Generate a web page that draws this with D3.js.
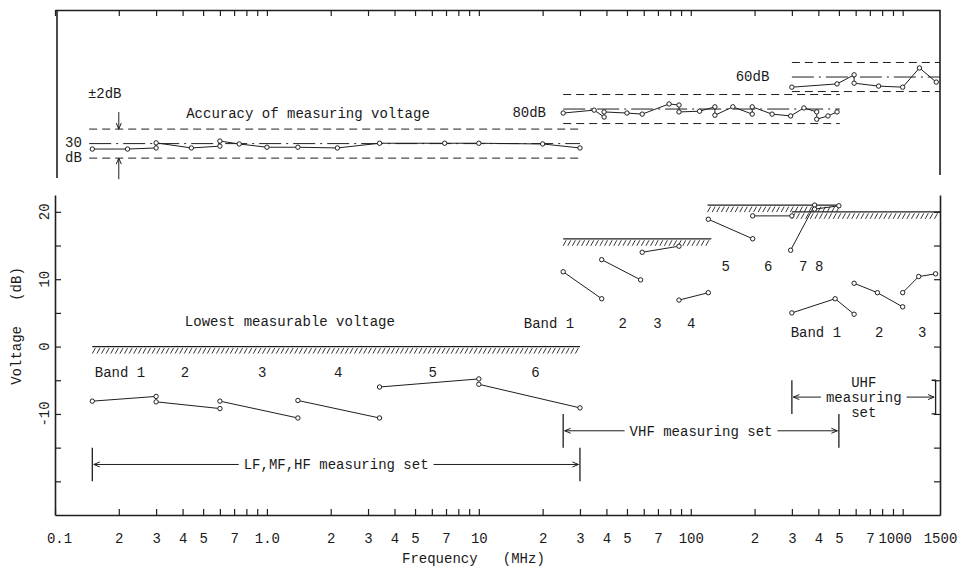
<!DOCTYPE html>
<meta charset="utf-8">
<style>
  body { margin: 0; background: #fff; }
  text { font-family: "Liberation Mono", "DejaVu Sans Mono", monospace; font-size: 14px; fill: #1a1a1a; }
</style>
<svg width="957" height="568"></svg>
<script src="https://d3js.org/d3.v7.min.js"></script>
<script>

// frequency in MHz, voltage in dB

// lowest measurable voltage, one polyline per band
var lfBands = [
  [[0.15, -8.1], [0.3, -7.4]],
  [[0.3, -8.2], [0.6, -9.2]],
  [[0.6, -8.1], [1.4, -10.6]],
  [[1.4, -8.0], [3.4, -10.6]],
  [[3.4, -6.0], [10, -4.8]],
  [[10, -5.6], [30, -9.1]]
];
var vhfBands = [
  [[25, 11.1], [38, 7.1]],
  [[38, 12.9], [58, 9.9]],
  [[59, 14.0], [88, 14.9]],
  [[88, 6.9], [121, 8.0]],
  [[121, 18.9], [196, 16.0]],
  [[196, 19.4], [300, 19.4]],
  [[296, 14.3], [384, 21.0]],
  [[384, 20.4], [500, 20.9]]
];
var uhfBands = [
  [[300, 5.0], [480, 7.1], [590, 4.8]],
  [[590, 9.4], [760, 8.0], [1000, 5.9]],
  [[1000, 8.0], [1190, 10.4], [1430, 10.8]]
];

// guaranteed limits (hatched): from, to, dB
var limits = [[0.15, 30, 0], [25, 125, 16], [120, 500, 21], [300, 1500, 20]];

// accuracy of measuring voltage: frequency, deviation in dB
var accLF = [[0.15, -0.75], [0.22, -0.75], [0.3, -0.6], [0.3, 0.1], [0.44, -0.6], [0.6, -0.35], [0.6, 0.35],
  [0.74, -0.05], [1.0, -0.5], [1.4, -0.5], [2.15, -0.6], [3.4, 0.05], [6.9, 0.05], [10, 0.05], [20, -0.05], [30, -0.6]];
var accVHF = [[25, -0.55], [35, -0.15], [39, -1.1], [39, -0.4], [50, -0.55], [59, -0.7], [79, 0.7], [88, 0.55],
  [88, -0.4], [110, -0.3], [130, 0.3], [130, -0.85], [158, 0.3], [195, -0.7], [195, 0.3], [242, -0.7],
  [296, -0.95], [342, 0.15], [393, -0.4], [393, -1.4], [444, -0.95], [490, -0.4]];
var accUHF = [[300, -1.4], [490, -0.95], [590, 0.3], [590, -0.85], [770, -1.25], [1000, -1.4], [1200, 1.25], [1440, -0.7]];
var accRanges = [[0.145, 30], [25, 505], [300, 1500]];
var tolerance = 2;

var xLabelValues = [0.1, 0.2, 0.3, 0.4, 0.5, 0.7, 1, 2, 3, 4, 5, 7, 10, 20, 30, 40, 50, 70, 100, 200, 300, 400, 500, 700, 1000, 1500];
var xLabels = ["0.1", "2", "3", "4", "5", "7", "1.0", "2", "3", "4", "5", "7", "10", "2", "3", "4", "5", "7", "100", "2", "3", "4", "5", "7", "1000", "1500"];
var yTickValues = [-20, -15, -10, -5, 0, 5, 10, 15, 20];
var yLabelValues = [20, 10, 0, -10];

// ---- layout ----
var svg = d3.select("svg"),
    left = 55, right = 940,
    topPanel = {top: 10, bottom: 177},
    botPanel = {top: 195, bottom: 515};

var x = d3.scaleLog().domain([0.1, 1500]).range([left, right]);
var y = d3.scaleLinear().domain([-25, 22.5]).range([botPanel.bottom, botPanel.top]);
var yTop = d3.scaleLinear().domain([-4.6, 18.4]).range([topPanel.bottom, topPanel.top]);
var accLevels = [0, 4.76, 9.17];

var ink = "#1f1f1f";

var bandNotes = [
  ["Lowest measurable voltage", 0.41, 3.8, "start"],
  ["Band 1", 0.154, -3.8, "start"], ["2", 0.41, -3.8], ["3", 0.95, -3.8], ["4", 2.17, -3.8], ["5", 6.05, -3.8], ["6", 18.5, -3.8],
  ["Band 1", 16.3, 3.5, "start"], ["2", 47.8, 3.5], ["3", 69.6, 3.5], ["4", 100.6, 3.5],
  ["5", 146, 12], ["6", 232, 12], ["7", 339, 12], ["8", 404, 12],
  ["Band 1", 296, 2.2, "start"], ["2", 775, 2.2], ["3", 1235, 2.2]
];
var accNotes = [
  ["\u00b12dB", 0.143, 6.97], ["Accuracy of measuring voltage", 0.416, 4.2],
  ["30", 0.1115, 0.2], ["dB", 0.1115, -1.86], ["80dB", 14.4, 4.34], ["60dB", 163, 9.31]
];
var sets = [
  {lines: ["LF,MF,HF measuring set"], from: 0.15, to: 30, level: -17.5},
  {lines: ["VHF measuring set"], from: 25, to: 500, level: -12.5},
  {lines: ["UHF", "measuring", "set"], from: 300, to: 1430, level: -7.5, bracket: true}
];

var defs = svg.append("defs");
defs.append("marker")
    .attr("id", "arrow")
    .attr("viewBox", "-8 -4 10 8")
    .attr("refX", 0).attr("refY", 0)
    .attr("markerWidth", 10).attr("markerHeight", 8)
    .attr("markerUnits", "userSpaceOnUse")
    .attr("orient", "auto")
  .append("path")
    .attr("d", "M-6,-2.5L0,0L-6,2.5")
    .attr("fill", "none")
    .attr("stroke", ink)
    .attr("stroke-width", 1);

// ---- axes ----
function styleAxis(g) {
  g.select(".domain").attr("stroke", ink).attr("stroke-width", 1.6);
  g.selectAll(".tick line").attr("stroke", ink).attr("stroke-width", 1.2);
}

svg.append("g")
    .attr("transform", "translate(0," + botPanel.bottom + ")")
    .call(d3.axisBottom(x).tickValues(x.ticks()).tickFormat("").tickSizeInner(-6).tickSizeOuter(0))
    .call(styleAxis);

svg.append("g")
    .attr("transform", "translate(0," + botPanel.bottom + ")")
    .call(d3.axisBottom(x).tickValues(xLabelValues).tickSize(0).tickPadding(18)
      .tickFormat(function(d, i) { return xLabels[i]; }))
    .call(function(g) { g.select(".domain").remove(); })
    .selectAll("text")
      .attr("dx", function(d) { return d === 1000 ? -8 : d === 0.1 ? 4 : 0; });

svg.append("g")
    .attr("transform", "translate(" + left + ",0)")
    .call(d3.axisLeft(y).tickValues(yTickValues).tickFormat("").tickSizeInner(-6).tickSizeOuter(0))
    .call(styleAxis);

svg.append("g")
    .attr("transform", "translate(" + right + ",0)")
    .call(d3.axisRight(y).tickValues(yTickValues).tickFormat("").tickSizeInner(-6).tickSizeOuter(0))
    .call(styleAxis);

svg.selectAll(".ylabel")
  .data(yLabelValues)
  .enter().append("text")
    .attr("transform", function(d) { return "translate(" + (left - 11) + "," + y(d) + ") rotate(-90)"; })
    .attr("text-anchor", "middle")
    .attr("dy", "0.35em")
    .text(function(d) { return d; });

svg.append("text")
    .attr("transform", "translate(16," + 326 + ") rotate(-90)")
    .attr("text-anchor", "middle")
    .attr("dy", "0.35em")
    .style("white-space", "pre")
    .text("Voltage   (dB)");

svg.append("text")
    .attr("x", 402)
    .attr("y", 563)
    .style("white-space", "pre")
    .text("Frequency   (MHz)");

// top panel frame with ticks along the top edge
svg.append("g")
    .attr("transform", "translate(0," + topPanel.top + ")")
    .call(d3.axisBottom(x).tickValues(x.ticks()).tickFormat("").tickSizeInner(6).tickSizeOuter(0))
    .call(styleAxis);

svg.append("line")
    .attr("x1", left + 2).attr("x2", left + 2)
    .attr("y1", topPanel.top).attr("y2", topPanel.bottom + 1)
    .attr("stroke", ink).attr("stroke-width", 1.6);
svg.append("line")
    .attr("x1", right).attr("x2", right)
    .attr("y1", topPanel.top).attr("y2", topPanel.bottom - 2)
    .attr("stroke", ink).attr("stroke-width", 1.6);

// ---- accuracy panel ----
var acc = svg.append("g");
[accLF, accVHF, accUHF].forEach(function(series, i) {
  var lvl = accLevels[i], r = accRanges[i];
  [tolerance, -tolerance].forEach(function(t) {
    acc.append("line")
        .attr("x1", x(r[0])).attr("x2", x(r[1]))
        .attr("y1", yTop(lvl + t)).attr("y2", yTop(lvl + t))
        .attr("stroke", ink).attr("stroke-width", 1)
        .attr("stroke-dasharray", "8,5");
  });
  acc.append("line")
      .attr("x1", x(r[0])).attr("x2", x(r[1]))
      .attr("y1", yTop(lvl)).attr("y2", yTop(lvl))
      .attr("stroke", ink).attr("stroke-width", 1)
      .attr("stroke-dasharray", "22,5,2,5");

  var line = d3.line()
      .x(function(d) { return x(d[0]); })
      .y(function(d) { return yTop(lvl + d[1]); });

  acc.append("path")
      .datum(series)
      .attr("fill", "none")
      .attr("stroke", ink)
      .attr("stroke-width", 1)
      .attr("d", line);

  acc.selectAll(null)
    .data(series)
    .enter().append("circle")
      .attr("cx", function(d) { return x(d[0]); })
      .attr("cy", function(d) { return yTop(lvl + d[1]); })
      .attr("r", 2.2)
      .attr("fill", "#fff")
      .attr("stroke", ink)
      .attr("stroke-width", 1);
});

acc.selectAll(null)
  .data(accNotes)
  .enter().append("text")
    .attr("x", function(d) { return x(d[1]); })
    .attr("y", function(d) { return yTop(d[2]); })
    .attr("dy", "0.35em")
    .text(function(d) { return d[0]; });

// ±2 dB arrows
[[4.34, tolerance], [-4.9, -tolerance]].forEach(function(a) {
  acc.append("line")
      .attr("x1", x(0.2)).attr("x2", x(0.2))
      .attr("y1", yTop(a[0])).attr("y2", yTop(a[1]))
      .attr("stroke", ink).attr("stroke-width", 1)
      .attr("marker-end", "url(#arrow)");
});

// ---- lowest measurable voltage panel ----
var low = svg.append("g");

limits.forEach(function(l) {
  var x0 = x(l[0]), x1 = x(l[1]), yy = y(l[2]);
  low.append("line")
      .attr("x1", x0).attr("x2", x1)
      .attr("y1", yy).attr("y2", yy)
      .attr("stroke", ink).attr("stroke-width", 1.2);
  low.append("path")
      .attr("d", d3.range(x0, x1 - 2, 4.6).map(function(px) {
        return "M" + px + "," + (yy + 7) + "L" + (px + 3) + "," + (yy + 1.5);
      }).join(""))
      .attr("stroke", ink)
      .attr("stroke-width", 0.9)
      .attr("fill", "none");
});

var bandLine = d3.line()
    .x(function(d) { return x(d[0]); })
    .y(function(d) { return y(d[1]); });

var bands = lfBands.concat(vhfBands, uhfBands);

low.selectAll(".band")
  .data(bands)
  .enter().append("path")
    .attr("fill", "none")
    .attr("stroke", ink)
    .attr("stroke-width", 1)
    .attr("d", bandLine);

low.selectAll(".pt")
  .data(d3.merge(bands))
  .enter().append("circle")
    .attr("cx", function(d) { return x(d[0]); })
    .attr("cy", function(d) { return y(d[1]); })
    .attr("r", 2.2)
    .attr("fill", "#fff")
    .attr("stroke", ink)
    .attr("stroke-width", 1);

low.selectAll(".note")
  .data(bandNotes)
  .enter().append("text")
    .attr("x", function(d) { return x(d[1]); })
    .attr("y", function(d) { return y(d[2]); })
    .attr("dy", "0.35em")
    .attr("text-anchor", function(d) { return d[3] || "middle"; })
    .text(function(d) { return d[0]; });

// measuring set ranges
sets.forEach(function(s) {
  var x0 = x(s.from), x1 = x(s.to), yc = y(s.level), mid = (x0 + x1) / 2,
      yA = y(s.level + 2.5), yB = y(s.level - 2.5),
      midLine = (s.lines.length - 1) / 2;

  var t = low.append("text")
      .attr("text-anchor", "middle");
  var spans = t.selectAll("tspan")
    .data(s.lines)
    .enter().append("tspan")
      .attr("x", mid)
      .attr("y", function(d, i) { return yc + (i - midLine) * 15; })
      .attr("dy", "0.35em")
      .text(function(d) { return d; });

  var w = spans.nodes()[Math.floor(midLine)].getComputedTextLength();

  low.append("line")
      .attr("x1", mid - w / 2 - 5).attr("x2", x0 + 1.5)
      .attr("y1", yc).attr("y2", yc)
      .attr("stroke", ink).attr("stroke-width", 1)
      .attr("marker-end", "url(#arrow)");
  low.append("line")
      .attr("x1", mid + w / 2 + 5).attr("x2", x1 - 1.5)
      .attr("y1", yc).attr("y2", yc)
      .attr("stroke", ink).attr("stroke-width", 1)
      .attr("marker-end", "url(#arrow)");

  low.append("line")
      .attr("x1", x0).attr("x2", x0)
      .attr("y1", yA).attr("y2", yB)
      .attr("stroke", ink).attr("stroke-width", 1.3);
  low.append("path")
      .attr("d", s.bracket
        ? "M" + (x1 - 4) + "," + yA + "H" + x1 + "V" + yB + "H" + (x1 - 4)
        : "M" + x1 + "," + yA + "V" + yB)
      .attr("fill", "none")
      .attr("stroke", ink).attr("stroke-width", 1.3);
});

</script>
